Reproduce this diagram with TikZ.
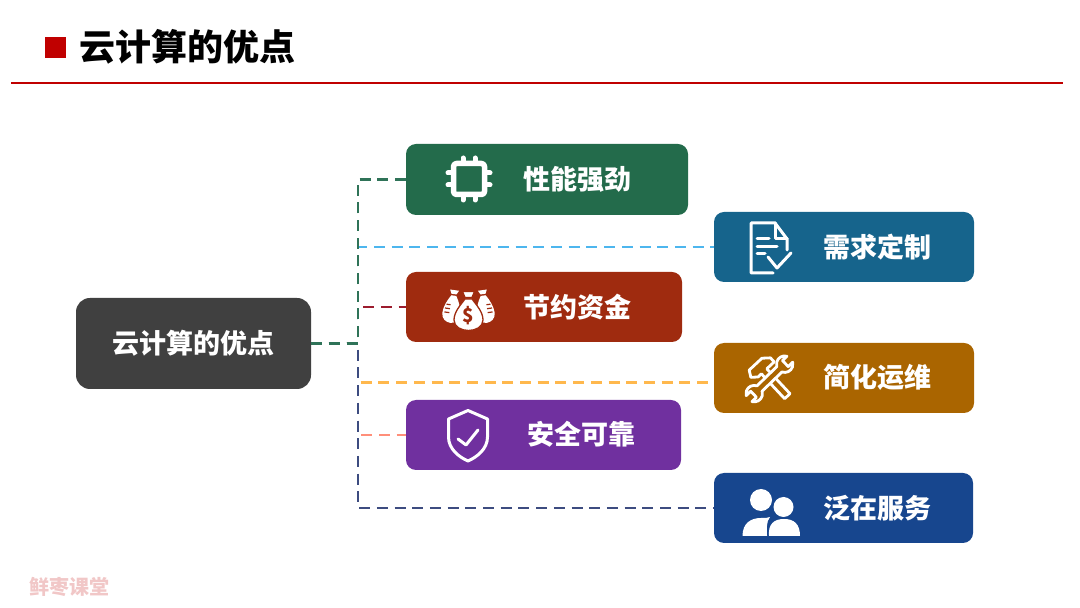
\documentclass[tikz,border=0pt]{standalone}
\usepackage{fontspec}
\setmainfont{Noto Sans CJK SC}
\usetikzlibrary{positioning}
\definecolor{titlered}{HTML}{C00000}
\definecolor{rootgray}{HTML}{404040}
\definecolor{perfgreen}{HTML}{236B4B}
\definecolor{needblue}{HTML}{16648C}
\definecolor{savered}{HTML}{9F2B0F}
\definecolor{opsbrown}{HTML}{AA6500}
\definecolor{safepurple}{HTML}{70309F}
\definecolor{servenavy}{HTML}{17468E}

\begin{document}
\begin{tikzpicture}[
                x=1pt, y=1pt,
                itembox/.style={rounded corners=10pt, minimum height=70pt,
                    inner sep=0pt},
                itemlbl/.style={font=\fontsize{27}{27}\selectfont\bfseries,
                    text=white, inner sep=0pt},
                link/.style={line width=2.7pt, dash pattern=on 11pt off 6.7pt},
                iconline/.style={draw=white, line width=3pt, line join=round,
                    line cap=round}
            ]
            \useasboundingbox (0, 0) rectangle (1080, 608);

            % Title
            \node[fill=titlered, minimum size=21pt, inner sep=0pt] (mark) at (55, 560.5) {};
            \node[font=\fontsize{36}{36}\selectfont\bfseries, inner sep=0pt] (title)
                at (187.5, 561) {云计算的优点};
            \coordinate (ruleL) at (11, 525);
            \coordinate (ruleR) at (1063, 525);
            \draw[titlered, line width=2.2pt] (ruleL) -- (ruleR);

            % Boxes
            \node[itembox, fill=rootgray, minimum width=235pt, minimum height=91pt,
                rounded corners=14pt] (root) at (193.5, 264.5) {};
            \node[itembox, fill=perfgreen, minimum width=282pt, minimum height=71pt] (perf) at (547, 428.5) {};
            \node[itembox, fill=needblue, minimum width=260pt] (need) at (844, 361) {};
            \node[itembox, fill=savered, minimum width=276pt] (save) at (544, 301) {};
            \node[itembox, fill=opsbrown, minimum width=260pt] (ops) at (844, 230) {};
            \node[itembox, fill=safepurple, minimum width=275pt] (safe) at (543.5, 173) {};
            \node[itembox, fill=servenavy, minimum width=259pt] (serve) at (843.5, 100) {};

            % Box labels
            \node[itemlbl] (rootlbl) at (193.5, 264.5) {云计算的优点};
            \node[itemlbl] (perflbl) at (577.5, 429) {性能强劲};
            \node[itemlbl] (needlbl) at (877.5, 361) {需求定制};
            \node[itemlbl] (savelbl) at (577.5, 301) {节约资金};
            \node[itemlbl] (opslbl) at (877.5, 231) {简化运维};
            \node[itemlbl] (safelbl) at (581.5, 174) {安全可靠};
            \node[itemlbl] (servelbl) at (877.5, 100) {泛在服务};

            % Connectors
            \coordinate (spine) at (358, 264.5);
            \draw[link, color={rgb,255:red,255;green,143;blue,122}] (root.east) -- (spine) |- (safe.west);
            \draw[link, color={rgb,255:red,255;green,184;blue,77}] (root.east) -- (spine) |- ([yshift=-4.5pt]ops.west);
            \draw[link, color={rgb,255:red,61;green,76;blue,128}] (root.east) -- (spine) |- (serve.west);
            \draw[link, color={rgb,255:red,156;green,28;blue,46}] (root.east) -- (spine) |- (save.west);
            \draw[link, color={rgb,255:red,77;green,182;blue,238}] (root.east) -- (spine) |- (need.west);
            \draw[link, color={rgb,255:red,47;green,115;blue,88}] (root.east) -- (spine) |- (perf.west);

            % Chip
            \begin{scope}[shift={(469, 429)}]
                \draw[iconline, line width=5.5pt, rounded corners=3pt] (-15.5, -15.5) rectangle (15.5, 15.5);
                \foreach \p in {-6, 6} {
                    \draw[iconline, line width=5pt] (\p, 16) -- (\p, 21);
                    \draw[iconline, line width=5pt] (\p, -16) -- (\p, -21);
                    \draw[iconline, line width=5pt] (16, \p) -- (21, \p);
                    \draw[iconline, line width=5pt] (-16, \p) -- (-21, \p);
                }
            \end{scope}

            % Document
            \begin{scope}[shift={(770, 360)}]
                \draw[iconline] (3, -25) -- (-19, -25) -- (-19, 25) -- (5, 25) -- (17, 9) -- (17, -2);
                \draw[iconline] (5, 25) -- (5, 9) -- (17, 9);
                \draw[iconline] (-13, 9) -- (-1, 9);
                \draw[iconline] (-13, 1) -- (7, 1);
                \draw[iconline] (-13, -6) -- (-5, -6);
                \draw[iconline] (-2, -9) -- (7, -20) -- (21, -5);
            \end{scope}

            % Money bags
            \begin{scope}[shift={(468.5, 301)}]
                \foreach \s in {-1, 1} {
                    \begin{scope}[xscale=\s, shift={(16, 2)}, rotate=8]
                        \fill[white] (-4.5, 15) -- (4.5, 15) -- (2.5, 11) -- (-2.5, 11) -- cycle;
                        \fill[white] (-2.5, 9.5) .. controls (-6, 4) and (-9, -3) .. (-9, -9)
                            .. controls (-9, -15) and (-4, -18) .. (0, -18)
                            .. controls (4, -18) and (9, -15) .. (9, -9)
                            .. controls (9, -3) and (6, 4) .. (2.5, 9.5) -- cycle;
                        \draw[savered, line width=1.2pt] (2, 0) -- (6, 0) (2, -4) -- (7, -4) (2, -8) -- (7, -8);
                    \end{scope}
                }
                \filldraw[white, draw=savered, line width=1.3pt] (-6, 15.5) -- (6, 15.5) -- (3.5, 9.5) -- (-3.5, 9.5) -- cycle;
                \filldraw[white, draw=savered, line width=1.3pt] (-3.5, 8) .. controls (-8, 2) and (-14.5, -5) .. (-14.5, -13)
                    .. controls (-14.5, -20) and (-7, -23.5) .. (0, -23.5)
                    .. controls (7, -23.5) and (14.5, -20) .. (14.5, -13)
                    .. controls (14.5, -5) and (8, 2) .. (3.5, 8) -- cycle;
                \node[font=\fontsize{19}{19}\selectfont\bfseries, text=savered, inner sep=0pt] (dollar) at (0, -9) {\$};
            \end{scope}

            % Hammer and wrench
            \begin{scope}[shift={(769, 230)}, scale=0.92]
                \begin{scope}[shift={(-6, 8)}, rotate=-47]
                    \filldraw[fill=opsbrown, draw=white, line width=2.8pt, line join=round]
                        (1, -4) -- (1, -9) -- (-4, -15) -- (-11, -11) -- (-11, 8) -- (-5, 15)
                        -- (1, 15) -- (1, 4) -- (38, 4) -- (38, -4) -- cycle;
                \end{scope}
                \begin{scope}[shift={(0.5, -1)}, rotate=44]
                    \filldraw[fill=opsbrown, draw=white, line width=2.8pt, line join=round]
                        (15, -4) arc[start angle=206.6, end angle=330, radius=9]
                        -- (24, -4.5) -- (24, 4.5) -- (30.8, 4.5)
                        arc[start angle=30, end angle=153.4, radius=9]
                        -- (-15, 4) arc[start angle=26.6, end angle=150, radius=9]
                        -- (-24, 4.5) -- (-24, -4.5) -- (-30.8, -4.5)
                        arc[start angle=210, end angle=333.4, radius=9] -- cycle;
                \end{scope}
            \end{scope}

            % Shield
            \begin{scope}[shift={(468, 174)}]
                \draw[iconline] (0, 23.5) -- (19.5, 15) -- (19.5, -3)
                    .. controls (19.5, -15) and (9, -23) .. (0, -27)
                    .. controls (-9, -23) and (-19.5, -15) .. (-19.5, -3)
                    -- (-19.5, 15) -- cycle;
                \draw[iconline] (-10, -5) -- (-2, -11) -- (10, 4);
            \end{scope}

            % People
            \begin{scope}[shift={(771, 98)}]
                \fill[white] (-10, 10) circle[radius=11];
                \fill[white] (12.5, 3) circle[radius=10];
                \fill[white] (-28.5, -26) .. controls (-28.5, -13) and (-20, -8) .. (-10, -8)
                    .. controls (-6, -8) and (-3, -8) .. (-1, -7)
                    .. controls (-5, -12) and (-4, -18) .. (-4, -26) -- cycle;
                \fill[white] (-2, -26) .. controls (-3, -14) and (3, -9) .. (13, -9)
                    .. controls (23, -9) and (29, -14) .. (29, -26) -- cycle;
            \end{scope}

            % Watermark
            \node[font=\fontsize{20}{20}\selectfont\bfseries, text=titlered!22!white, inner sep=0pt] (mark2)
                at (70, 21) {鲜枣课堂};
\end{tikzpicture}
\end{document}
